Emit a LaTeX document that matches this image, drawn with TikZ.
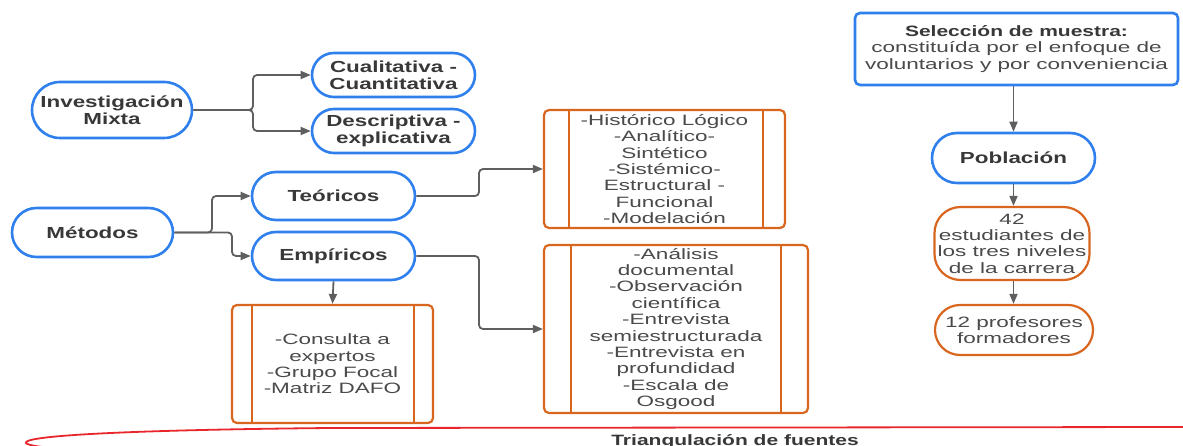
\documentclass[tikz,border=0pt]{standalone}
\usepackage{fontspec}
\setmainfont{Liberation Sans}[FakeStretch=1.5]
\newfontfamily\bfam{Liberation Sans}[FakeStretch=1.4]
\usetikzlibrary{arrows.meta,calc}
\definecolor{bl}{HTML}{2F80ED}
\definecolor{orng}{HTML}{D9661F}
\definecolor{cg}{HTML}{5F5F5F}
\definecolor{txt}{HTML}{383838}
\definecolor{txtl}{HTML}{4A4A4A}
\definecolor{rd}{HTML}{E8262B}
\begin{document}
\begin{tikzpicture}[x=1pt,y=-1pt,
  pill/.style={draw=bl, line width=2.6pt, fill=white, text=txt, align=center, inner sep=0pt,
    font=\bfam\bfseries\fontsize{16}{16.8}\selectfont},
  listbox/.style={draw=orng, line width=2.2pt, rounded corners=5pt, fill=white, text=txtl, align=center, inner sep=0pt,
    font=\fontsize{15}{16.4}\selectfont},
  obox/.style={draw=orng, line width=2.2pt, fill=white, text=txtl, align=center, inner sep=0pt,
    font=\fontsize{15}{16.4}\selectfont},
  orline/.style={draw=orng, line width=2.2pt},
  conn/.style={draw=cg, line width=1.8pt, rounded corners=4pt, -{Triangle[length=10pt,width=8pt]}}
]
\useasboundingbox (0,0) rectangle (1183,446);

% left group
\node[pill, minimum width=160pt, minimum height=56pt, rounded corners=28pt] (inv) at (112,110) {Investigación\\Mixta};
\node[pill, minimum width=163pt, minimum height=44pt, rounded corners=22pt] (cual) at (393.5,75) {Cualitativa -\\Cuantitativa};
\node[pill, minimum width=163pt, minimum height=44pt, rounded corners=22pt] (desc) at (393.5,131) {Descriptiva -\\explicativa};
\coordinate (j1) at (253,0);
\draw[conn] (inv.east) -- (inv.east -| j1) |- (cual.west);
\draw[conn] (inv.east) -- (inv.east -| j1) |- (desc.west);

\node[pill, minimum width=161pt, minimum height=49pt, rounded corners=24.5pt] (met) at (92.5,232.5) {Métodos};
\node[pill, minimum width=163pt, minimum height=48pt, rounded corners=24pt] (teo) at (333.5,196) {Teóricos};
\node[pill, minimum width=163pt, minimum height=48pt, rounded corners=24pt] (emp) at (333.5,256) {Empíricos};
\coordinate (j2) at (212,0);
\coordinate (j2b) at (232,0);
\draw[conn] (met.east) -- (met.east -| j2) |- (teo.west);
\draw[conn] (met.east) -- (met.east -| j2b) |- (emp.west);

% list boxes
\node[listbox, minimum width=241pt, minimum height=118pt] (tb) at (664.5,169)
  {-Histórico Lógico\\-Analítico-\\Sintético\\-Sistémico-\\Estructural -\\Funcional\\-Modelación};
\draw[orline] ($(tb.north west)+(26,0)$) -- ($(tb.south west)+(26,0)$);
\draw[orline] ($(tb.north east)+(-23,0)$) -- ($(tb.south east)+(-23,0)$);

\node[listbox, minimum width=264pt, minimum height=168pt] (eb) at (676,329)
  {-Análisis\\documental\\-Observación\\científica\\-Entrevista\\semiestructurada\\-Entrevista en\\profundidad\\-Escala de\\Osgood};
\draw[orline] ($(eb.north west)+(28,0)$) -- ($(eb.south west)+(28,0)$);
\draw[orline] ($(eb.north east)+(-28,0)$) -- ($(eb.south east)+(-28,0)$);

\node[listbox, minimum width=201pt, minimum height=118pt] (cb) at (332.5,364)
  {-Consulta a\\expertos\\-Grupo Focal\\-Matriz DAFO};
\draw[orline] ($(cb.north west)+(21,0)$) -- ($(cb.south west)+(21,0)$);
\draw[orline] ($(cb.north east)+(-20,0)$) -- ($(cb.south east)+(-20,0)$);

\coordinate (j3) at (479,0);
\draw[conn] (teo.east) -- (teo.east -| j3) |- (tb.west);
\draw[conn] (emp.east) -- (emp.east -| j3) |- (eb.west);
\draw[conn] (emp.south) -- (cb.north);

% right column
\node[draw=bl, line width=2.6pt, rounded corners=5pt, fill=white, align=center, inner sep=0pt,
  minimum width=323pt, minimum height=72pt, text=txtl, font=\fontsize{15}{16.4}\selectfont] (sel) at (1016.5,49)
  {{\bfam\bfseries\color{txt}Selección de muestra:}\\constituída por el enfoque de\\voluntarios y por conveniencia};
\node[pill, minimum width=163pt, minimum height=50pt, rounded corners=25pt] (pob) at (1013.5,158) {Población};
\node[obox, minimum width=155pt, minimum height=73pt, rounded corners=26pt] (est) at (1012,243.5)
  {42\\estudiantes de\\los tres niveles\\de la carrera};
\node[obox, minimum width=158pt, minimum height=50pt, rounded corners=25pt] (prof) at (1014,330)
  {12 profesores\\formadores};
\draw[conn] (sel.south -| pob.north) -- (pob.north);
\draw[conn] (pob.south) -- (pob.south |- est.north);
\draw[conn] (est.south -| pob.south) -- (pob.south |- prof.north);

% bottom red curve
\begin{scope}
\clip (0,0) rectangle (1183,446);
\draw[rd, line width=1.8pt] (1190,427) -- (330,428) .. controls (120,430) and (22,436) .. (26,443)
  .. controls (29,448) and (90,452) .. (220,456);
\end{scope}
\node[anchor=base, text=txt, font=\bfam\bfseries\fontsize{15}{16}\selectfont, inner sep=0pt] (tri) at (735,445) {Triangulación de fuentes};
\end{tikzpicture}
\end{document}
